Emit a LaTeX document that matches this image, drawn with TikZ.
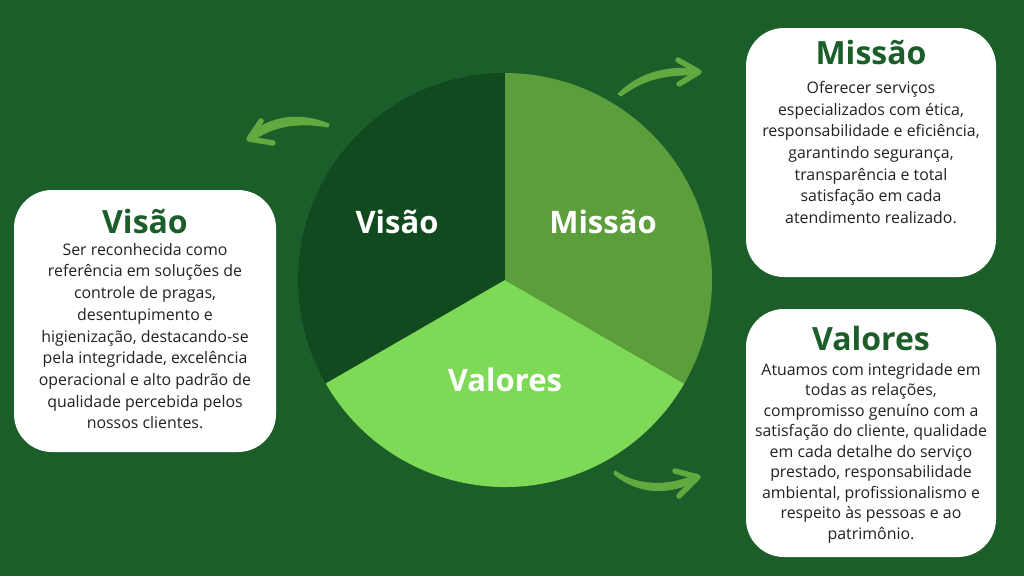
\documentclass[tikz,border=0pt]{standalone}
\usepackage{fontspec}
\setmainfont{Open Sans}
\definecolor{bggreen}{HTML}{1B5E2A}
\definecolor{darkslice}{HTML}{114A1E}
\definecolor{midslice}{HTML}{5B9E3B}
\definecolor{lightslice}{HTML}{7ED957}
\definecolor{arrowgreen}{HTML}{62AA40}
\definecolor{titlegreen}{HTML}{1B5E2A}
\definecolor{bodygray}{HTML}{222222}
\begin{document}
\begin{tikzpicture}[x=1pt,y=1pt,
  infobox/.style={fill=white,rounded corners=38pt,minimum width=#1,inner sep=0pt},
  boxtitle/.style={anchor=base,text=titlegreen,font={\fontsize{32}{36}\selectfont\bfseries},inner sep=0pt},
  boxbody/.style={anchor=north,align=center,text=bodygray,font={\fontsize{15.9}{#1}\selectfont},inner sep=0pt},
  pielabel/.style={anchor=base,text=white,font={\fontsize{31}{36}\selectfont\bfseries},inner sep=0pt},
  brush/.style={fill=arrowgreen,draw=arrowgreen,line width=1pt,line join=round},
  barb/.style={draw=arrowgreen,line width=5.5pt,line cap=round,line join=round}]
\useasboundingbox (0,0) rectangle (1024,-576);
\fill[bggreen] (0,0) rectangle (1024,-576);

% pie
\coordinate (c) at (505,-280);
\fill[darkslice] (c) -- ++(90:207) arc (90:210:207) -- cycle;
\fill[lightslice] (c) -- ++(210:207) arc (210:330:207) -- cycle;
\fill[midslice] (c) -- ++(330:207) arc (-30:90:207) -- cycle;
\node[pielabel] (pv) at (397,-233) {Visão};
\node[pielabel] (pm) at (603,-233) {Missão};
\node[pielabel] (pr) at (505,-391) {Valores};

% arrows
\fill[brush] (618,-94) .. controls (640,-72) and (668,-66) .. (698,-69) -- (698,-75) .. controls (668,-74) and (645,-78) .. (621,-96) -- cycle;
\draw[barb] (678,-60) -- (699,-72) -- (679,-84);
\fill[brush] (329,-124) .. controls (300,-112) and (268,-116) .. (249,-136) -- (251,-142) .. controls (272,-125) and (300,-122) .. (328,-127) -- cycle;
\draw[barb] (261,-121) -- (249,-139) -- (273,-143);
\fill[brush] (615,-471) .. controls (640,-488) and (672,-486) .. (697,-474) -- (698,-480) .. controls (672,-494) and (640,-496) .. (614,-474) -- cycle;
\draw[barb] (675,-471) -- (698,-477) -- (679,-496);

% Visão box
\node[infobox=262pt,minimum height=262pt] (bv) at (145,-321) {};
\node[boxtitle] (tv) at (145,-233) {Visão};
\node[boxbody=21.7pt] (xv) at (145,-243) {Ser reconhecida como\\referência em soluções de\\controle de pragas,\\desentupimento e\\higienização, destacando-se\\pela integridade, excelência\\operacional e alto padrão de\\qualidade percebida pelos\\nossos clientes.};

% Missão box
\node[infobox=250pt,minimum height=249pt] (bm) at (871,-152.5) {};
\node[boxtitle] (tm) at (871,-64) {Missão};
\node[boxbody=21.7pt] (xm) at (871,-81) {Oferecer serviços\\especializados com ética,\\responsabilidade e eficiência,\\garantindo segurança,\\transparência e total\\satisfação em cada\\atendimento realizado.};

% Valores box
\node[infobox=250pt,minimum height=248pt] (br) at (871,-433) {};
\node[boxtitle] (tr) at (871,-350) {Valores};
\node[boxbody=20.5pt] (xr) at (871,-363) {Atuamos com integridade em\\todas as relações,\\compromisso genuíno com a\\satisfação do cliente, qualidade\\em cada detalhe do serviço\\prestado, responsabilidade\\ambiental, profissionalismo e\\respeito às pessoas e ao\\patrimônio.};
\end{tikzpicture}
\end{document}
